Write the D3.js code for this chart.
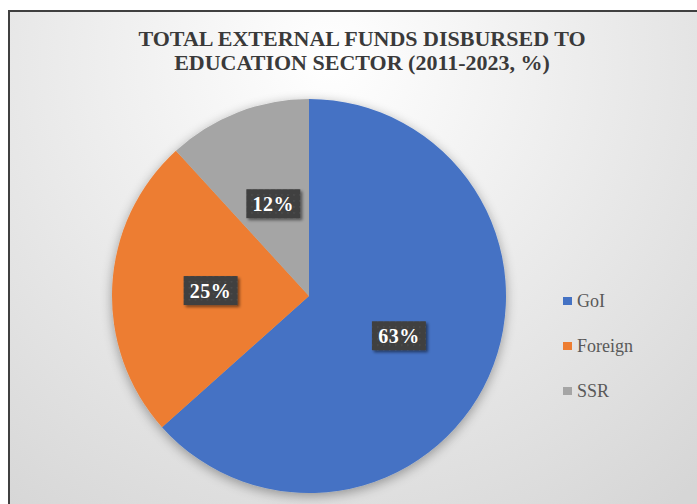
<!DOCTYPE html>
<html>
<head>
<meta charset="utf-8">
<script src="https://cdn.jsdelivr.net/npm/d3@7"></script>
<style>
  html, body { margin: 0; padding: 0; background: #ffffff; }
  svg { display: block; }
</style>
</head>
<body>
<svg id="chart" width="697" height="504"></svg>
<script>
const titleLines = ["TOTAL EXTERNAL FUNDS DISBURSED TO", "EDUCATION SECTOR (2011-2023, %)"];
const categories = ["GoI", "Foreign", "SSR"];
const values = [63.4, 24.8, 11.8];
const colors = ["#4472C4", "#ED7D31", "#A5A5A5"];

const W = 697, H = 504;
const svg = d3.select("#chart");
const defs = svg.append("defs");

const bg = defs.append("radialGradient").attr("id", "bg")
  .attr("gradientUnits", "userSpaceOnUse")
  .attr("cx", 330).attr("cy", 60).attr("r", 560);
bg.append("stop").attr("offset", "0%").attr("stop-color", "#ffffff");
bg.append("stop").attr("offset", "100%").attr("stop-color", "#d6d6d6");

const pat = defs.append("pattern").attr("id", "dots")
  .attr("patternUnits", "userSpaceOnUse").attr("width", 6).attr("height", 6);
pat.append("rect").attr("width", 6).attr("height", 6).attr("fill", "#404040");
pat.append("rect").attr("x", 2).attr("y", 2).attr("width", 1.5).attr("height", 1.5).attr("fill", "#4e4e4e");

const shadow = defs.append("filter").attr("id", "pieShadow")
  .attr("x", "-20%").attr("y", "-20%").attr("width", "140%").attr("height", "140%");
shadow.append("feGaussianBlur").attr("in", "SourceAlpha").attr("stdDeviation", 6).attr("result", "b");
shadow.append("feOffset").attr("in", "b").attr("dx", 0).attr("dy", 3).attr("result", "o");
shadow.append("feComponentTransfer").attr("in", "o").attr("result", "s")
  .append("feFuncA").attr("type", "linear").attr("slope", 0.35);
const m1 = shadow.append("feMerge");
m1.append("feMergeNode").attr("in", "s");
m1.append("feMergeNode").attr("in", "SourceGraphic");

const lshadow = defs.append("filter").attr("id", "lblShadow")
  .attr("x", "-30%").attr("y", "-30%").attr("width", "160%").attr("height", "160%");
lshadow.append("feGaussianBlur").attr("in", "SourceAlpha").attr("stdDeviation", 1.5).attr("result", "b");
lshadow.append("feOffset").attr("in", "b").attr("dx", 2).attr("dy", 2).attr("result", "o");
lshadow.append("feComponentTransfer").attr("in", "o").attr("result", "s")
  .append("feFuncA").attr("type", "linear").attr("slope", 0.5);
const m2 = lshadow.append("feMerge");
m2.append("feMergeNode").attr("in", "s");
m2.append("feMergeNode").attr("in", "SourceGraphic");

// chart area with border
svg.append("rect").attr("x", 9).attr("y", 11).attr("width", W + 10).attr("height", H + 10)
  .attr("fill", "url(#bg)").attr("stroke", "#404040").attr("stroke-width", 2);

// title
const title = svg.append("text").attr("text-anchor", "middle")
  .attr("font-family", "'Liberation Serif', 'Times New Roman', serif")
  .attr("font-weight", "bold").attr("font-size", 22).attr("fill", "#3a3a3a");
titleLines.forEach((t, i) => {
  title.append("tspan").attr("x", 362).attr("y", 46 + i * 24).text(t);
});

// pie
const cx = 309, cy = 296, r = 197;
const pie = d3.pie().sort(null).value(d => d.v);
const data = pie(categories.map((c, i) => ({ c, v: values[i], col: colors[i] })));
const arc = d3.arc().innerRadius(0).outerRadius(r);

const g = svg.append("g").attr("transform", `translate(${cx},${cy})`);
g.append("g").attr("filter", "url(#pieShadow)")
  .selectAll("path").data(data).join("path")
  .attr("d", arc).attr("fill", d => d.data.col);

// labels
const lbl = g.selectAll("g.lbl").data(data).join("g").attr("class", "lbl")
  .attr("transform", d => `translate(${arc.centroid(d)})`);
lbl.append("rect").attr("x", -27).attr("y", -15).attr("width", 54).attr("height", 29)
  .attr("fill", "url(#dots)").attr("filter", "url(#lblShadow)");
lbl.append("text").attr("text-anchor", "middle").attr("dy", "0.35em")
  .attr("font-family", "'Liberation Serif', 'Times New Roman', serif")
  .attr("font-weight", "bold").attr("font-size", 20).attr("fill", "#ffffff")
  .attr("letter-spacing", 0.5)
  .text(d => Math.round(d.data.v) + "%");

// legend
const lg = svg.append("g").selectAll("g").data(categories).join("g")
  .attr("transform", (d, i) => `translate(563, ${301 + i * 45})`);
lg.append("rect").attr("x", 0).attr("y", -4).attr("width", 9).attr("height", 8)
  .attr("fill", (d, i) => colors[i]);
lg.append("text").attr("x", 14).attr("y", 0).attr("dy", "0.35em")
  .attr("font-family", "'Liberation Serif', 'Times New Roman', serif")
  .attr("font-size", 18).attr("fill", "#595959")
  .text(d => d);
</script>
</body>
</html>
